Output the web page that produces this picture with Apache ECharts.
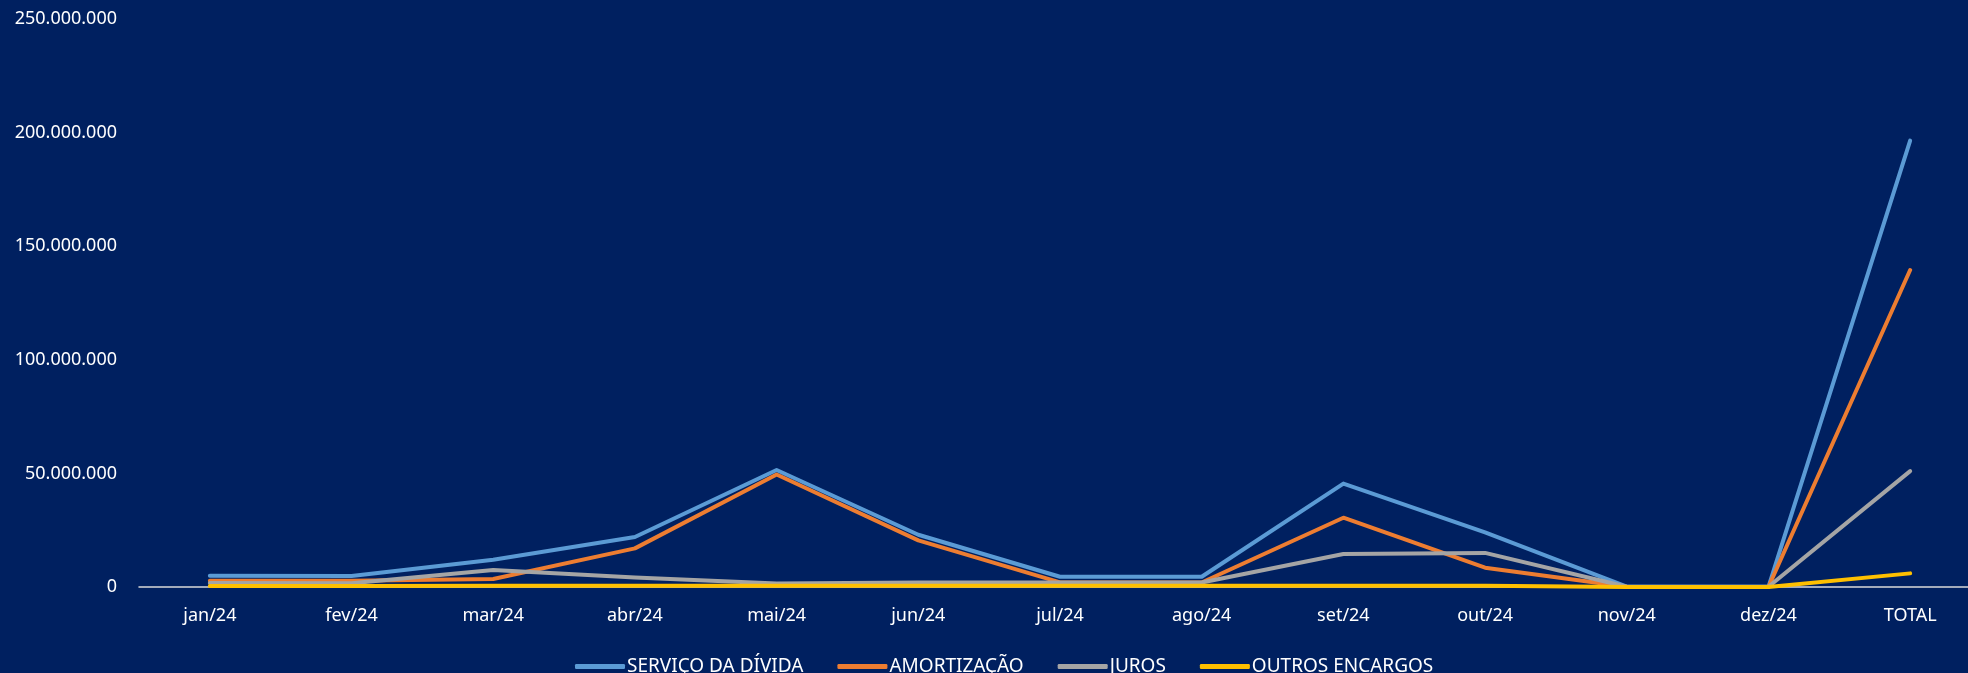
<!DOCTYPE html>
<html><head><meta charset="utf-8">
<script src="https://cdn.jsdelivr.net/npm/echarts@6/dist/echarts.min.js"></script>
<style>html,body{margin:0;padding:0;background:#002060;overflow:hidden;width:1968px;height:673px;}#c{width:1981px;height:673px;}</style>
</head><body><div id="c"></div>
<script>
const categories = ['jan/24','fev/24','mar/24','abr/24','mai/24','jun/24','jul/24','ago/24','set/24','out/24','nov/24','dez/24','TOTAL'];
const servicoDivida = [5000000, 4800000, 12000000, 22000000, 51500000, 23000000, 4500000, 4500000, 45500000, 24000000, 200000, 100000, 196500000];
const amortizacao   = [2800000, 2800000, 3500000, 17000000, 49500000, 20500000, 2000000, 2000000, 30500000, 8500000, 100000, 0, 139500000];
const juros         = [1800000, 1600000, 7500000, 4200000, 1500000, 2000000, 2000000, 2000000, 14500000, 15000000, 100000, 100000, 51000000];
const outrosEnc     = [400000, 400000, 600000, 500000, 500000, 500000, 500000, 500000, 600000, 600000, 0, 0, 6000000];
const seriesNames = ['SERVIÇO DA DÍVIDA','AMORTIZAÇÃO','JUROS','OUTROS ENCARGOS'];
const colors = ['#5B9BD5','#ED7D31','#A5A5A5','#FFC000'];

const fmt = v => String(Math.round(v)).replace(/\B(?=(\d{3})+(?!\d))/g, '.');
const font = "'Noto Sans', sans-serif";
const chart = echarts.init(document.getElementById('c'));
const dataSets = [servicoDivida, amortizacao, juros, outrosEnc];
chart.setOption({
  backgroundColor: '#002060',
  animation: false,
  color: colors,
  grid: { left: 139, right: 0, top: 19, bottom: 86, containLabel: false },
  legend: {
    bottom: -8, left: 570,
    icon: 'roundRect', itemWidth: 50, itemHeight: 5, itemGap: 34,
    textStyle: { color: '#FFFFFF', fontSize: 19, fontFamily: font, padding: [0,0,0,-3] },
    data: seriesNames
  },
  xAxis: {
    type: 'category', data: categories, boundaryGap: true,
    axisLine: { lineStyle: { color: '#D9D9D9', width: 1.5 } },
    axisTick: { show: false },
    axisLabel: { color: '#FFFFFF', fontSize: 18, fontFamily: font, margin: 20 }
  },
  yAxis: {
    type: 'value', min: 0, max: 250000000, interval: 50000000,
    axisLine: { show: false }, axisTick: { show: false }, splitLine: { show: false },
    axisLabel: { color: '#FFFFFF', fontSize: 18, fontFamily: font, margin: 22, formatter: fmt }
  },
  series: seriesNames.map((n, i) => ({
    name: n, type: 'line', data: dataSets[i], showSymbol: false, symbol: 'none',
    lineStyle: { width: 4, color: colors[i], cap: 'round', join: 'round' },
    itemStyle: { color: colors[i] }
  }))
});
</script></body></html>
